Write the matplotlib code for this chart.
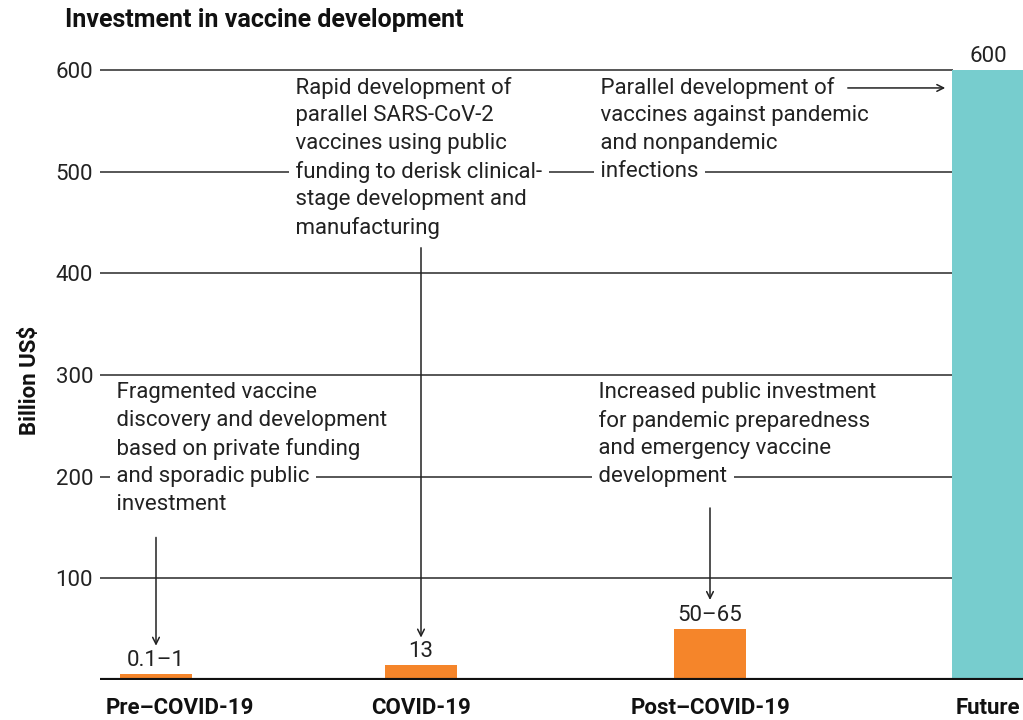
import matplotlib
matplotlib.use("Agg")
import matplotlib.pyplot as plt

plt.rcParams['font.family'] = ['Roboto', 'DejaVu Sans']

# data
categories = ['Pre\u2013COVID-19', 'COVID-19', 'Post\u2013COVID-19', 'Future']
values = [6, 15, 50, 600]
value_labels = ['0.1\u20131', '13', '50\u201365', '600']
bar_colors = ['#F5852A', '#F5852A', '#F5852A', '#77CDCE']
yticks = [100, 200, 300, 400, 500, 600]

notes = [
    ['Fragmented vaccine', 'discovery and development', 'based on private funding',
     'and sporadic public', 'investment'],
    ['Rapid development of', 'parallel SARS-CoV-2', 'vaccines using public',
     'funding to derisk clinical-', 'stage development and', 'manufacturing'],
    ['Parallel development of', 'vaccines against pandemic', 'and nonpandemic', 'infections'],
    ['Increased public investment', 'for pandemic preparedness',
     'and emergency vaccine', 'development'],
]

# layout (x in pixel-like units of the axes)
bar_x = [156, 421, 710, 988]
label_x = [180, 421, 711, 988]
bar_w = 72
note_x = [117, 296, 601, 599]
note_anchor = [200, 500, 500, 200]   # gridline the 4th line sits on
line_step = 27.5
space_w = 6   # approx width of the padding space, in x units
text_col = '#222222'
grid_col = '#3a3a3a'
fs = 16

fig = plt.figure(figsize=(10.23, 7.2), dpi=100)
ax = fig.add_axes([100 / 1023, 40 / 720, 923 / 1023, 620 / 720])
ax.set_xlim(100, 1023)
ax.set_ylim(0, 610)

for y in yticks:
    ax.plot([100, 953], [y, y], color=grid_col, lw=1.2, zorder=1, solid_capstyle='butt')

ax.bar(bar_x, values, width=bar_w, color=bar_colors, zorder=3)
for x, v, lab in zip(bar_x, values, value_labels):
    ax.text(x, v + 3, lab, ha='center', va='bottom', fontsize=fs, color=text_col, zorder=4)

# baseline
ax.axhline(0, color='#111111', lw=3, zorder=5)

# annotation blocks, each line padded with spaces so it cuts the gridline it sits on
for lines, x, anchor in zip(notes, note_x, note_anchor):
    for i, line in enumerate(lines):
        y = anchor + (3 - i) * line_step
        ax.text(x - space_w, y, ' ' + line + ' ', ha='left', va='center', fontsize=fs,
                color=text_col, zorder=4,
                bbox=dict(boxstyle='square,pad=0.05', facecolor='white', edgecolor='none'))

arrow_kw = dict(arrowstyle='->', color=text_col, lw=1.1, mutation_scale=12)
ax.annotate('', xy=(bar_x[0], 31), xytext=(bar_x[0], 143), arrowprops=arrow_kw, zorder=4)
ax.annotate('', xy=(bar_x[1], 39), xytext=(bar_x[1], 428), arrowprops=arrow_kw, zorder=4)
ax.annotate('', xy=(bar_x[2], 76), xytext=(bar_x[2], 172), arrowprops=arrow_kw, zorder=4)
ax.annotate('', xy=(948, 582.5), xytext=(845, 582.5), arrowprops=arrow_kw, zorder=4)

for s in ax.spines.values():
    s.set_visible(False)
ax.set_yticks(yticks)
ax.set_yticklabels([str(t) for t in yticks], fontsize=fs, color=text_col)
ax.tick_params(axis='y', length=0, pad=5)
ax.set_xticks(label_x)
ax.set_xticklabels(categories, fontsize=fs, fontweight='bold', color='#111111')
ax.tick_params(axis='x', length=0, pad=12)

fig.text(30 / 1023, 1 - 380 / 720, 'Billion US$', rotation=90, ha='center', va='center',
         fontsize=fs, fontweight='bold', color='#111111')
fig.text(65 / 1023, 1 - 20 / 720, 'Investment in vaccine development', ha='left', va='center',
         fontsize=18, fontweight='bold', color='#111111')

fig.savefig('out.png', dpi=100)
